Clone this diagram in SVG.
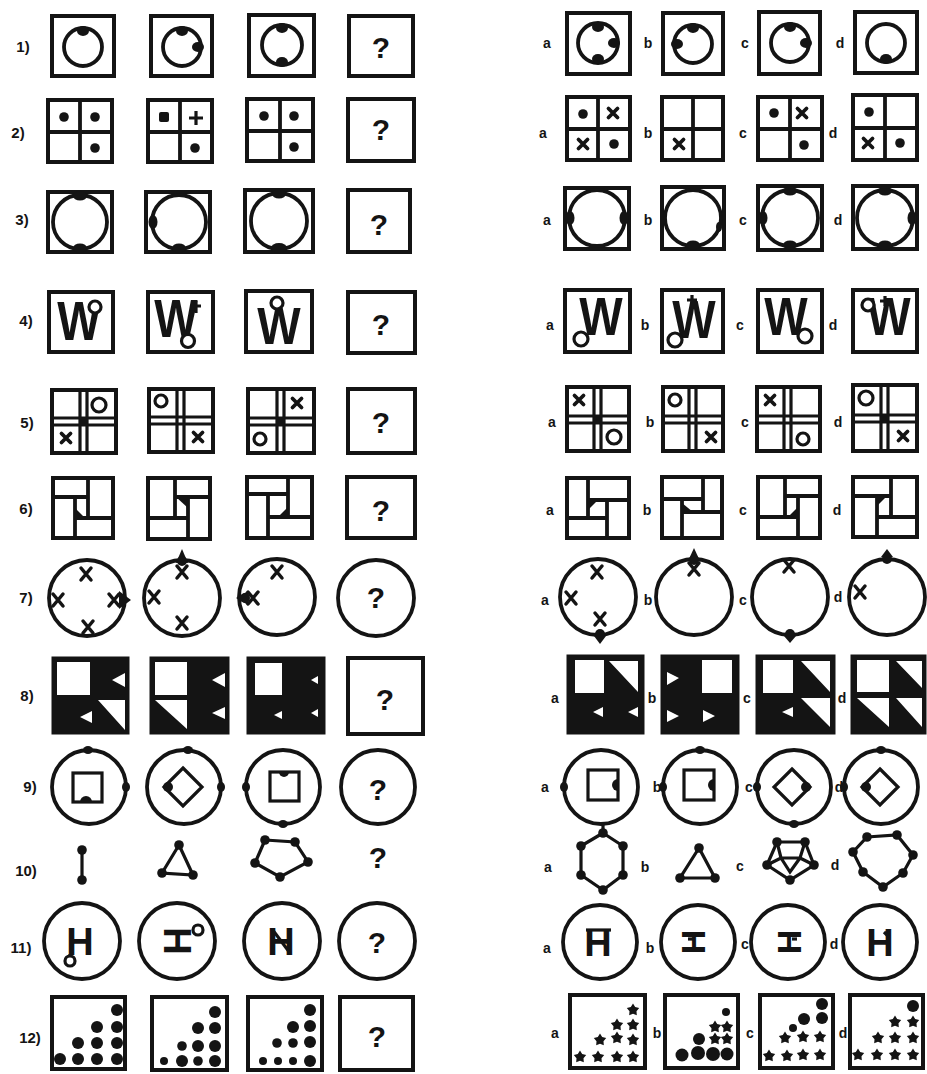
<svg xmlns="http://www.w3.org/2000/svg" width="927" height="1074" viewBox="0 0 927 1074">
<style>
.b{fill:#fff;stroke:#141414;stroke-width:4}
.l{fill:none;stroke:#141414;stroke-width:3.2}
.c{fill:none;stroke:#141414;stroke-width:3.8}
.lw{fill:#fff;stroke:#141414;stroke-width:3.2}
.k{fill:#141414}
.w{fill:#fff}
.bk{fill:#141414;stroke:#141414;stroke-width:3}
.q{font-family:"Liberation Sans",Arial,sans-serif;font-weight:bold;font-size:30px;text-anchor:middle;fill:#141414}
.n{font-family:"Liberation Sans",Arial,sans-serif;font-weight:bold;font-size:15px;text-anchor:middle;fill:#141414}
.t{font-family:"Liberation Sans",Arial,sans-serif;font-weight:bold;font-size:14px;text-anchor:middle;fill:#141414}
.W{font-family:"Liberation Sans",Arial,sans-serif;font-weight:bold;font-size:46px;text-anchor:middle;fill:#141414}
.H{font-family:"Liberation Sans",Arial,sans-serif;font-weight:bold;font-size:38px;text-anchor:middle;fill:#141414}
</style>
<defs>
<ellipse id="bl" rx="6" ry="5" fill="#141414"/>
<ellipse id="bh" rx="7" ry="4.5" fill="#141414"/>
<ellipse id="bv" rx="4.5" ry="7" fill="#141414"/>
<ellipse id="th" rx="5" ry="4" fill="#141414"/>
<ellipse id="tv" rx="4" ry="5" fill="#141414"/>
<circle id="d" r="4.8" fill="#141414"/>
<circle id="d6" r="6" fill="#141414"/>
<circle id="d4" r="4" fill="#141414"/>
<path id="xm" d="M-4.5,-4.5L4.5,4.5M4.5,-4.5L-4.5,4.5" fill="none" stroke="#141414" stroke-width="3.8" stroke-linecap="round"/>
<path id="xm2" d="M-5,-6L5,6M5,-6L-5,6" fill="none" stroke="#141414" stroke-width="3.5" stroke-linecap="round"/>
<polygon id="st" points="0,-6.5 2.2,-3 6.2,-2 3.5,1.2 3.8,5.3 0,3.7 -3.8,5.3 -3.5,1.2 -6.2,-2 -2.2,-3" fill="#141414"/>
</defs>

<g id="labels">
<text class="n" x="23" y="52">1)</text>
<text class="n" x="18" y="138">2)</text>
<text class="n" x="22" y="225">3)</text>
<text class="n" x="26" y="326">4)</text>
<text class="n" x="27" y="428">5)</text>
<text class="n" x="26" y="514">6)</text>
<text class="n" x="26" y="603">7)</text>
<text class="n" x="27" y="701">8)</text>
<text class="n" x="30" y="792">9)</text>
<text class="n" x="26" y="876">10)</text>
<text class="n" x="21" y="953">11)</text>
<text class="n" x="30" y="1043">12)</text>
<text class="t" x="547" y="48">a</text><text class="t" x="648" y="48">b</text><text class="t" x="745" y="48">c</text><text class="t" x="840" y="48">d</text>
<text class="t" x="543" y="138">a</text><text class="t" x="648" y="138">b</text><text class="t" x="743" y="138">c</text><text class="t" x="833" y="138">d</text>
<text class="t" x="547" y="225">a</text><text class="t" x="648" y="225">b</text><text class="t" x="743" y="225">c</text><text class="t" x="838" y="225">d</text>
<text class="t" x="550" y="330">a</text><text class="t" x="645" y="330">b</text><text class="t" x="740" y="330">c</text><text class="t" x="833" y="330">d</text>
<text class="t" x="552" y="427">a</text><text class="t" x="650" y="427">b</text><text class="t" x="745" y="427">c</text><text class="t" x="838" y="427">d</text>
<text class="t" x="550" y="515">a</text><text class="t" x="647" y="515">b</text><text class="t" x="743" y="515">c</text><text class="t" x="837" y="515">d</text>
<text class="t" x="545" y="605">a</text><text class="t" x="648" y="605">b</text><text class="t" x="743" y="605">c</text><text class="t" x="838" y="602">d</text>
<text class="t" x="555" y="703">a</text><text class="t" x="652" y="703">b</text><text class="t" x="747" y="703">c</text><text class="t" x="842" y="703">d</text>
<text class="t" x="545" y="792">a</text><text class="t" x="657" y="792">b</text><text class="t" x="749" y="792">c</text><text class="t" x="839" y="792">d</text>
<text class="t" x="548" y="872">a</text><text class="t" x="645" y="872">b</text><text class="t" x="740" y="871">c</text><text class="t" x="835" y="870">d</text>
<text class="t" x="547" y="953">a</text><text class="t" x="650" y="953">b</text><text class="t" x="745" y="949">c</text><text class="t" x="834" y="949">d</text>
<text class="t" x="555" y="1038">a</text><text class="t" x="657" y="1038">b</text><text class="t" x="750" y="1038">c</text><text class="t" x="843" y="1038">d</text>
</g>

<g id="connectors"/>

<!-- Row 1 -->
<g id="q1-1" transform="translate(52,16)"><rect class="b" width="62" height="60"/><circle class="c" cx="31" cy="31" r="19"/><use href="#bl" x="31" y="15"/></g>
<g id="q1-2" transform="translate(151,16)"><rect class="b" width="61" height="60"/><circle class="c" cx="31" cy="31" r="19"/><use href="#bl" x="31" y="15"/><use href="#bl" x="47" y="31"/></g>
<g id="q1-3" transform="translate(249,15)"><rect class="b" width="65" height="61"/><circle class="c" cx="33" cy="30" r="20"/><use href="#bl" x="33" y="13"/><use href="#bl" x="33" y="47"/></g>
<g id="q1-4" transform="translate(349,16)"><rect class="b" width="64" height="60"/><text class="q" x="32" y="42">?</text></g>
<g id="q1-a" transform="translate(567,13)"><rect class="b" width="63" height="61"/><circle class="c" cx="31" cy="30" r="20"/><use href="#bl" x="31" y="14"/><use href="#bl" x="47" y="30"/><use href="#bl" x="31" y="46"/></g>
<g id="q1-b" transform="translate(663,13)"><rect class="b" width="60" height="61"/><circle class="c" cx="30" cy="31" r="19"/><use href="#bl" x="30" y="15"/><use href="#bl" x="14" y="31"/></g>
<g id="q1-c" transform="translate(759,12)"><rect class="b" width="61" height="62"/><circle class="c" cx="31" cy="31" r="19"/><use href="#bl" x="31" y="15"/><use href="#bl" x="47" y="31"/></g>
<g id="q1-d" transform="translate(855,12)"><rect class="b" width="62" height="61"/><circle class="c" cx="31" cy="31" r="19"/><use href="#bl" x="31" y="47"/></g>

<!-- Row 2 -->
<g id="q2-1" transform="translate(48,100)"><rect class="b" width="64" height="62"/><path class="c" d="M32,0V62M0,32H64"/><use href="#d" x="16" y="17"/><use href="#d" x="47" y="17"/><use href="#d" x="47" y="48"/></g>
<g id="q2-2" transform="translate(148,100)"><rect class="b" width="64" height="62"/><path class="c" d="M32,0V62M0,32H64"/><rect class="k" x="11" y="12" width="10" height="10" rx="2"/><path class="l" d="M48,11V25M41,18H55" stroke-width="3.8"/><use href="#d" x="47" y="48"/></g>
<g id="q2-3" transform="translate(247,99)"><rect class="b" width="66" height="62"/><path class="c" d="M33,0V62M0,32H66"/><use href="#d" x="17" y="17"/><use href="#d" x="47" y="17"/><use href="#d" x="47" y="48"/></g>
<g id="q2-4" transform="translate(348,99)"><rect class="b" width="66" height="62"/><text class="q" x="33" y="41">?</text></g>
<g id="q2-a" transform="translate(567,97)"><rect class="b" width="63" height="63"/><path class="c" d="M31,0V63M0,32H63"/><use href="#d" x="16" y="17"/><use href="#xm" x="46" y="16"/><use href="#xm" x="16" y="47"/><use href="#d" x="47" y="47"/></g>
<g id="q2-b" transform="translate(662,97)"><rect class="b" width="61" height="63"/><path class="c" d="M31,0V63M0,32H61"/><use href="#xm" x="17" y="47"/></g>
<g id="q2-c" transform="translate(758,97)"><rect class="b" width="64" height="63"/><path class="c" d="M32,0V63M0,32H64"/><use href="#d" x="16" y="16"/><use href="#xm" x="44" y="16"/><use href="#d" x="46" y="48"/></g>
<g id="q2-d" transform="translate(853,95)"><rect class="b" width="64" height="65"/><path class="c" d="M32,0V65M0,33H64"/><use href="#d" x="16" y="17"/><use href="#xm" x="15" y="48"/><use href="#d" x="47" y="48"/></g>

<!-- Row 3 -->
<g id="q3-1" transform="translate(48,192)"><rect class="b" width="64" height="60"/><circle class="c" cx="32" cy="30" r="27"/><use href="#bh" x="32" y="4"/><use href="#bh" x="32" y="56"/></g>
<g id="q3-2" transform="translate(146,192)"><rect class="b" width="64" height="60"/><circle class="c" cx="33" cy="30" r="27"/><use href="#bv" x="7" y="30"/><use href="#bh" x="33" y="56"/></g>
<g id="q3-3" transform="translate(245,190)"><rect class="b" width="68" height="62"/><circle class="c" cx="34" cy="31" r="28"/><use href="#bh" x="34" y="4"/><ellipse class="k" cx="34" cy="58" rx="8" ry="5"/></g>
<g id="q3-4" transform="translate(348,190)"><rect class="b" width="62" height="62"/><text class="q" x="31" y="45">?</text></g>
<g id="q3-a" transform="translate(565,188)"><rect class="b" width="64" height="61"/><circle class="c" cx="32" cy="30" r="28"/><use href="#bv" x="5" y="30"/><use href="#bv" x="59" y="30"/></g>
<g id="q3-b" transform="translate(662,187)"><rect class="b" width="62" height="62"/><circle class="c" cx="31" cy="31" r="28"/><use href="#bh" x="31" y="58"/><ellipse class="k" cx="57" cy="40" rx="3" ry="5"/></g>
<g id="q3-c" transform="translate(758,186)"><rect class="b" width="64" height="64"/><circle class="c" cx="32" cy="32" r="28"/><use href="#bh" x="32" y="5"/><use href="#bv" x="5" y="32"/><use href="#bh" x="32" y="59"/></g>
<g id="q3-d" transform="translate(853,186)"><rect class="b" width="64" height="63"/><circle class="c" cx="32" cy="32" r="28"/><use href="#bh" x="32" y="5"/><use href="#bv" x="59" y="32"/><use href="#bh" x="32" y="59"/></g>

<!-- Row 4 -->
<g id="q4-1" transform="translate(49,292)"><rect class="b" width="64" height="60"/><text class="W" transform="translate(30,48) scale(1,1.2)">W</text><circle class="lw" cx="46" cy="15" r="6"/></g>
<g id="q4-2" transform="translate(148,292)"><rect class="b" width="65" height="60"/><text class="W" transform="translate(28,45) scale(1,1.15)">W</text><path class="l" d="M48,9V21M43,14H53"/><circle class="lw" cx="40" cy="49" r="6.5"/></g>
<g id="q4-3" transform="translate(246,291)"><rect class="b" width="66" height="61"/><text class="W" transform="translate(33,53) scale(1,1.12)">W</text><circle class="lw" cx="31" cy="12" r="6"/></g>
<g id="q4-4" transform="translate(348,292)"><rect class="b" width="67" height="61"/><text class="q" x="33" y="43">?</text></g>
<g id="q4-a" transform="translate(565,290)"><rect class="b" width="65" height="62"/><text class="W" transform="translate(36,45) scale(1,1.15)">W</text><circle class="lw" cx="16" cy="49" r="7"/></g>
<g id="q4-b" transform="translate(662,290)"><rect class="b" width="61" height="62"/><text class="W" transform="translate(32,48) scale(1,1.15)">W</text><path class="l" d="M30,5V15M25,10H35"/><circle class="lw" cx="13" cy="50" r="7"/></g>
<g id="q4-c" transform="translate(758,290)"><rect class="b" width="64" height="62"/><text class="W" transform="translate(28,45) scale(1,1.15)">W</text><circle class="lw" cx="47" cy="46" r="7"/></g>
<g id="q4-d" transform="translate(853,290)"><rect class="b" width="64" height="62" stroke-width="5"/><text class="W" transform="translate(36,45) scale(1,1.15)">W</text><path class="l" d="M32,6V16M27,11H37"/><circle class="lw" cx="15" cy="15" r="6"/></g>

<!-- Row 5 -->
<g id="q5-1" transform="translate(52,390)"><rect class="b" width="64" height="63"/><path class="l" d="M28,0V63M35,0V63M0,28H64M0,35H64"/><rect class="k" x="28" y="28" width="7" height="7"/><circle class="l" cx="47" cy="15" r="7"/><use href="#xm" x="14" y="48"/></g>
<g id="q5-2" transform="translate(149,389)"><rect class="b" width="64" height="63"/><path class="l" d="M28,0V63M35,0V63M0,28H64M0,35H64"/><circle class="l" cx="12" cy="12" r="6"/><use href="#xm" x="49" y="48"/></g>
<g id="q5-3" transform="translate(248,389)"><rect class="b" width="66" height="64"/><path class="l" d="M29,0V64M36,0V64M0,29H66M0,36H66"/><rect class="k" x="29" y="29" width="7" height="7"/><use href="#xm" x="49" y="14"/><circle class="l" cx="12" cy="50" r="6"/></g>
<g id="q5-4" transform="translate(348,389)"><rect class="b" width="67" height="64"/><text class="q" x="33" y="44">?</text></g>
<g id="q5-a" transform="translate(567,387)"><rect class="b" width="62" height="64"/><path class="l" d="M27,0V64M34,0V64M0,29H62M0,36H62"/><rect class="k" x="27" y="29" width="7" height="7"/><use href="#xm" x="12" y="13"/><circle class="l" cx="47" cy="50" r="7"/></g>
<g id="q5-b" transform="translate(663,387)"><rect class="b" width="60" height="64"/><path class="l" d="M26,0V64M33,0V64M0,29H60M0,36H60"/><circle class="l" cx="12" cy="13" r="6"/><use href="#xm" x="48" y="50"/></g>
<g id="q5-c" transform="translate(757,387)"><rect class="b" width="63" height="64"/><path class="l" d="M27,0V64M34,0V64M0,29H63M0,36H63"/><use href="#xm" x="13" y="13"/><circle class="l" cx="46" cy="52" r="6"/></g>
<g id="q5-d" transform="translate(853,385)"><rect class="b" width="64" height="66"/><path class="l" d="M28,0V66M35,0V66M0,30H64M0,37H64"/><rect class="k" x="28" y="30" width="7" height="7"/><circle class="l" cx="13" cy="13" r="7"/><use href="#xm" x="50" y="51"/></g>

<!-- Row 6 -->
<g id="q6-1" transform="translate(53,478)"><rect class="b" width="60" height="60"/><path class="c" d="M35,0V40M0,19H35M22,40H60M22,19V60"/><path class="k" d="M22,30L32,40H22Z"/></g>
<g id="q6-2" transform="translate(148,478)"><rect class="b" width="62" height="61"/><path class="c" d="M27,0V40M27,19H62M0,40H40M40,19V61"/><path class="k" d="M28,19H40V30Z"/></g>
<g id="q6-3" transform="translate(247,477)"><rect class="b" width="65" height="61"/><path class="c" d="M41,0V40M0,17H41M21,40H65M21,17V61"/><path class="k" d="M41,30V40H31Z"/></g>
<g id="q6-4" transform="translate(347,477)"><rect class="b" width="68" height="61"/><text class="q" x="34" y="44">?</text></g>
<g id="q6-a" transform="translate(567,478)"><rect class="b" width="62" height="60"/><path class="c" d="M21,0V40M21,22H62M0,40H40M40,22V60"/><path class="k" d="M21,22H31L21,32Z"/></g>
<g id="q6-b" transform="translate(662,477)"><rect class="b" width="60" height="61"/><path class="c" d="M20,35H60M41,0V35M20,22V61M0,22H41"/><path class="k" d="M20,35H31L20,26Z"/></g>
<g id="q6-c" transform="translate(758,477)"><rect class="b" width="62" height="61"/><path class="c" d="M27,0V40M27,19H62M0,40H40M40,19V61"/><path class="k" d="M40,30V40H30Z"/></g>
<g id="q6-d" transform="translate(853,477)"><rect class="b" width="64" height="60"/><path class="c" d="M38,0V40M0,19H38M24,40H64M24,19V60"/><path class="k" d="M24,19H34L24,29Z"/></g>

<!-- Row 7 -->
<g id="q7-1"><circle class="c" cx="87" cy="598" r="38"/><use href="#xm2" x="86" y="574"/><use href="#xm2" x="58" y="600"/><use href="#xm2" x="114" y="600"/><use href="#xm2" x="88" y="627"/><path class="k" d="M119,591L131,600L119,609Z"/></g>
<g id="q7-2"><circle class="c" cx="182" cy="598" r="38"/><path class="k" d="M176,563L182,549L188,563Z"/><circle class="k" cx="182" cy="561" r="5"/><use href="#xm2" x="182" y="572"/><use href="#xm2" x="154" y="597"/><use href="#xm2" x="182" y="623"/></g>
<g id="q7-3"><circle class="c" cx="277" cy="597" r="38"/><use href="#xm2" x="277" y="572"/><use href="#xm2" x="253" y="598"/><path class="k" d="M248,591L236,598L248,605Z"/><circle class="k" cx="245" cy="598" r="5"/></g>
<g id="q7-4"><circle class="c" cx="376" cy="598" r="38"/><text class="q" x="376" y="608">?</text></g>
<g id="q7-a"><circle class="c" cx="598" cy="597" r="38"/><use href="#xm2" x="597" y="572"/><use href="#xm2" x="571" y="598"/><use href="#xm2" x="600" y="619"/><circle class="k" cx="600" cy="634" r="5"/><path class="k" d="M594,636L600,644L606,636Z"/></g>
<g id="q7-b"><circle class="c" cx="694" cy="597" r="38"/><path class="k" d="M688,561L694,548L700,561Z"/><circle class="k" cx="694" cy="560" r="5"/><use href="#xm2" x="694" y="569"/></g>
<g id="q7-c"><circle class="c" cx="790" cy="597" r="38"/><use href="#xm2" x="789" y="566"/><circle class="k" cx="790" cy="634" r="5"/><path class="k" d="M784,636L790,643L796,636Z"/></g>
<g id="q7-d"><circle class="c" cx="887" cy="597" r="38"/><circle class="k" cx="887" cy="559" r="5"/><path class="k" d="M881,557L887,549L893,557Z"/><use href="#xm2" x="860" y="592"/></g>

<!-- Row 8 -->
<g id="q8-1"><rect class="bk" x="53" y="658" width="75" height="75"/><rect class="w" x="57" y="662" width="33" height="33"/><path class="w" d="M112,680L125,673V687Z M80,717L92,711V723Z M98,700H125V730Z"/></g>
<g id="q8-2"><rect class="bk" x="151" y="658" width="77" height="75"/><rect class="w" x="155" y="662" width="32" height="33"/><path class="w" d="M155,700H187V729Z M212,680L225,673V687Z M212,713L225,707V719Z"/></g>
<g id="q8-3"><rect class="bk" x="248" y="658" width="76" height="75"/><rect class="w" x="255" y="663" width="27" height="32"/><path class="w" d="M311,680L318,676V684Z M274,715L282,711V719Z M311,713L318,709V717Z"/></g>
<g id="q8-4"><rect class="b" x="348" y="658" width="75" height="76"/><text class="q" x="385" y="710">?</text></g>
<g id="q8-a"><rect class="bk" x="568" y="656" width="75" height="77"/><rect class="w" x="575" y="660" width="29" height="33"/><path class="w" d="M609,661H638V692Z M593,712L603,707V717Z M628,712L638,707V717Z"/></g>
<g id="q8-b"><rect class="bk" x="662" y="656" width="76" height="77"/><rect class="w" x="702" y="660" width="30" height="33"/><path class="w" d="M667,672V685L679,678Z M667,710V722L679,716Z M703,710V722L715,716Z"/></g>
<g id="q8-c"><rect class="bk" x="757" y="656" width="77" height="77"/><rect class="w" x="763" y="660" width="30" height="33"/><path class="w" d="M801,661H830V692Z M782,712L793,707V717Z M801,698H830V727Z"/></g>
<g id="q8-d"><rect class="bk" x="852" y="656" width="73" height="77"/><rect class="w" x="857" y="660" width="32" height="32"/><path class="w" d="M896,661H922V688Z M857,698H889V727Z M896,698H922V727Z"/></g>

<!-- Row 9 -->
<g id="q9-1"><circle class="c" cx="89" cy="787" r="37"/><use href="#th" x="88" y="750"/><use href="#tv" x="126" y="787"/><rect class="l" x="73" y="773" width="29" height="29"/><path class="k" d="M80,802a6,6 0 0 1 12,0Z"/></g>
<g id="q9-2"><circle class="c" cx="184" cy="787" r="37"/><use href="#th" x="188" y="750"/><use href="#tv" x="221" y="787"/><path class="l" d="M183,768L202,787L183,806L164,787Z"/><circle class="k" cx="168" cy="787" r="5"/></g>
<g id="q9-3"><circle class="c" cx="283" cy="787" r="37"/><use href="#tv" x="246" y="787"/><use href="#th" x="283" y="824"/><rect class="l" x="270" y="772" width="29" height="29"/><path class="k" d="M279,772a5,5 0 0 0 10,0Z"/></g>
<g id="q9-4"><circle class="c" cx="378" cy="787" r="37"/><text class="q" x="378" y="800">?</text></g>
<g id="q9-a"><circle class="c" cx="601" cy="787" r="37"/><use href="#tv" x="564" y="787"/><rect class="l" x="588" y="770" width="30" height="30"/><path class="k" d="M618,779a6,6 0 0 0 0,12Z"/></g>
<g id="q9-b"><circle class="c" cx="700" cy="787" r="37"/><use href="#th" x="700" y="750"/><use href="#tv" x="663" y="787"/><rect class="l" x="684" y="770" width="30" height="30"/><path class="k" d="M714,779a6,6 0 0 0 0,12Z"/></g>
<g id="q9-c"><circle class="c" cx="794" cy="787" r="37"/><use href="#tv" x="757" y="787"/><use href="#th" x="794" y="824"/><path class="l" d="M792,769L810,787L792,805L774,787Z"/><circle class="k" cx="806" cy="787" r="5"/></g>
<g id="q9-d"><circle class="c" cx="881" cy="787" r="37"/><use href="#th" x="881" y="750"/><use href="#tv" x="844" y="787"/><path class="l" d="M880,769L898,787L880,805L862,787Z"/><circle class="k" cx="866" cy="787" r="5"/></g>

<!-- Row 10 -->
<g id="q10-1"><path class="l" d="M82,850V880"/><use href="#d" x="82" y="850"/><use href="#d" x="82" y="880"/></g>
<g id="q10-2"><path class="l" d="M179,845L162,873L193,875Z"/><use href="#d" x="179" y="845"/><use href="#d" x="162" y="873"/><use href="#d" x="193" y="875"/></g>
<g id="q10-3"><path class="l" d="M265,840L295,842L308,862L280,877L255,863Z"/><use href="#d" x="265" y="840"/><use href="#d" x="295" y="842"/><use href="#d" x="308" y="862"/><use href="#d" x="280" y="877"/><use href="#d" x="255" y="863"/></g>
<g id="q10-4"><text class="q" x="378" y="868">?</text></g>
<g id="q10-a"><path class="l" d="M603,833L623,846L623,875L603,890L581,875L581,846Z"/><path class="l" d="M603,823V833"/><use href="#d" x="603" y="833"/><use href="#d" x="623" y="846"/><use href="#d" x="623" y="875"/><use href="#d" x="603" y="890"/><use href="#d" x="581" y="875"/><use href="#d" x="581" y="846"/></g>
<g id="q10-b"><path class="l" d="M699,848L680,878L715,878Z"/><use href="#d" x="699" y="848"/><use href="#d" x="680" y="878"/><use href="#d" x="715" y="878"/></g>
<g id="q10-c"><path class="l" d="M777,842L805,842L814,865L790,880L767,865Z" stroke-width="4"/><path class="l" d="M777,842L781,858L800,858L805,842M781,858L790,872L800,858M767,865L781,858M814,865L800,858"/><use href="#d" x="777" y="842"/><use href="#d" x="805" y="842"/><use href="#d" x="814" y="865"/><use href="#d" x="790" y="880"/><use href="#d" x="767" y="865"/></g>
<g id="q10-d"><path class="l" d="M867,837L897,835L913,855L903,873L883,887L863,872L853,852Z"/><use href="#d" x="867" y="837"/><use href="#d" x="897" y="835"/><use href="#d" x="913" y="855"/><use href="#d" x="903" y="873"/><use href="#d" x="883" y="887"/><use href="#d" x="863" y="872"/><use href="#d" x="853" y="852"/></g>

<!-- Row 11 -->
<g id="q11-1"><circle class="c" cx="82" cy="941" r="38"/><text class="H" x="80" y="955">H</text><path class="l" d="M70,954V957" stroke-width="4"/><circle class="lw" cx="70" cy="961" r="5"/></g>
<g id="q11-2"><circle class="c" cx="177" cy="941" r="38"/><text class="H" transform="translate(177,941) rotate(90)" y="13">H</text><circle class="lw" cx="198" cy="930" r="5"/></g>
<g id="q11-3"><circle class="c" cx="282" cy="941" r="38"/><text class="H" x="281" y="955">H</text><path class="l" d="M272,929L290,953" stroke-width="4"/></g>
<g id="q11-4"><circle class="c" cx="377" cy="941" r="38"/><text class="q" x="377" y="953">?</text></g>
<g id="q11-a"><circle class="c" cx="600" cy="942" r="37"/><text class="H" x="598" y="956">H</text><path class="l" d="M586,930H611" stroke-width="4"/></g>
<g id="q11-b"><circle class="c" cx="698" cy="942" r="37"/><text class="H" transform="translate(695,942) rotate(90)" y="13" style="font-size:34px">H</text><path class="l" d="M688,939H693"/></g>
<g id="q11-c"><circle class="c" cx="788" cy="942" r="37"/><text class="H" transform="translate(788,942) rotate(-90)" y="13" style="font-size:34px">H</text><path class="l" d="M792,939H797"/></g>
<g id="q11-d"><circle class="c" cx="880" cy="942" r="37"/><text class="H" x="880" y="956">H</text><path class="l" d="M884,932L889,937"/></g>

<!-- Row 12 -->
<g id="q12-1" transform="translate(52,997)"><rect class="b" width="73" height="72"/><use href="#d6" x="65" y="13"/><use href="#d6" x="45" y="30"/><use href="#d6" x="65" y="30"/><use href="#d6" x="26" y="46"/><use href="#d6" x="45" y="46"/><use href="#d6" x="65" y="46"/><use href="#d6" x="8" y="62"/><use href="#d6" x="26" y="62"/><use href="#d6" x="45" y="62"/><use href="#d6" x="65" y="62"/></g>
<g id="q12-2" transform="translate(152,997)"><rect class="b" width="75" height="73"/><use href="#d6" x="63" y="15"/><use href="#d6" x="46" y="31"/><use href="#d6" x="63" y="31"/><use href="#d" x="30" y="49"/><use href="#d6" x="46" y="49"/><use href="#d6" x="63" y="49"/><use href="#d4" x="12" y="64"/><use href="#d6" x="30" y="64"/><use href="#d" x="46" y="64"/><use href="#d6" x="63" y="64"/></g>
<g id="q12-3" transform="translate(248,997)"><rect class="b" width="74" height="73"/><use href="#d6" x="62" y="13"/><use href="#d6" x="45" y="30"/><use href="#d6" x="62" y="29"/><use href="#d" x="29" y="46"/><use href="#d" x="45" y="46"/><use href="#d6" x="62" y="45"/><use href="#d4" x="15" y="64"/><use href="#d4" x="30" y="64"/><use href="#d4" x="45" y="64"/><use href="#d6" x="62" y="64"/></g>
<g id="q12-4" transform="translate(340,997)"><rect class="b" width="73" height="73"/><text class="q" x="37" y="50">?</text></g>
<g id="q12-a" transform="translate(570,995)"><rect class="b" width="75" height="73"/><use href="#st" x="63" y="15"/><use href="#st" x="47" y="30"/><use href="#st" x="63" y="30"/><use href="#st" x="30" y="45"/><use href="#st" x="47" y="43"/><use href="#st" x="63" y="45"/><use href="#st" x="10" y="62"/><use href="#st" x="28" y="62"/><use href="#st" x="47" y="62"/><use href="#st" x="63" y="62"/></g>
<g id="q12-b" transform="translate(665,995)"><rect class="b" width="73" height="73"/><use href="#d4" x="61" y="17"/><use href="#st" x="50" y="32"/><use href="#st" x="62" y="32"/><use href="#d6" x="34" y="44"/><use href="#st" x="50" y="44"/><use href="#st" x="62" y="44"/><circle class="k" cx="17" cy="60" r="6.5"/><circle class="k" cx="33" cy="58" r="7"/><circle class="k" cx="48" cy="59" r="7"/><circle class="k" cx="62" cy="59" r="6.5"/></g>
<g id="q12-c" transform="translate(760,995)"><rect class="b" width="73" height="73"/><use href="#d6" x="62" y="9"/><use href="#d6" x="62" y="23"/><use href="#d6" x="44" y="24"/><use href="#d4" x="33" y="33"/><use href="#st" x="25" y="43"/><use href="#st" x="43" y="42"/><use href="#st" x="60" y="42"/><use href="#st" x="9" y="61"/><use href="#st" x="27" y="61"/><use href="#st" x="43" y="60"/><use href="#st" x="60" y="60"/></g>
<g id="q12-d" transform="translate(850,995)"><rect class="b" width="73" height="73"/><use href="#d6" x="63" y="11"/><use href="#st" x="45" y="27"/><use href="#st" x="63" y="27"/><use href="#st" x="28" y="43"/><use href="#st" x="45" y="43"/><use href="#st" x="63" y="43"/><use href="#st" x="8" y="60"/><use href="#st" x="27" y="60"/><use href="#st" x="45" y="60"/><use href="#st" x="63" y="60"/></g>
</svg>
